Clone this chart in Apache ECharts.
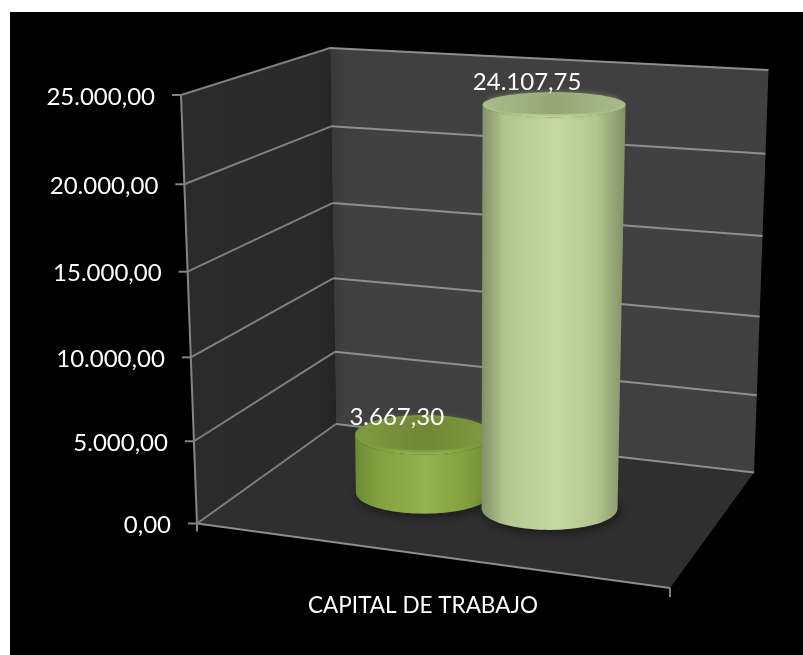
<!DOCTYPE html>
<html>
<head>
<meta charset="utf-8">
<title>Capital de trabajo</title>
<script src="https://cdn.jsdelivr.net/npm/echarts@6/dist/echarts.min.js"></script>
<style>
html, body { margin: 0; padding: 0; background: #fff; overflow: hidden; }
#frame { position: absolute; left: 10px; top: 12px; right: 0; bottom: 0; background: #000; }
#main { position: absolute; left: 0; top: 0; width: 803px; height: 655px; }
</style>
</head>
<body>
<div id="frame"></div>
<div id="main"></div>
<script>
// datos del grafico
const categories = ['CAPITAL DE TRABAJO']
const tickValues = [0, 5000, 10000, 15000, 20000, 25000]
const tickLabels = ['0,00', '5.000,00', '10.000,00', '15.000,00', '20.000,00', '25.000,00']
const serieA = [3667.30]
const serieB = [24107.75]
const labelA = ['3.667,30']
const labelB = ['24.107,75']

const axisMax = 25000
const gridLeft = 197, gridRight = 670, gridTop = 95, gridBottom = 523.5

// esquinas de la caja 3d (front-left, front-right, back-right, back-left)
const floorBox = [[197, 523.5], [670, 588], [754, 472.5], [336, 424]]
const roofBox = [[181, 95], [683, 130], [768.5, 70], [330, 48]]
const persp = 0.95
const barDepth = 0.51

const FONT = 'Lato, Carlito, sans-serif'

function mix(a, b, f) {
    return [a[0] + (b[0] - a[0]) * f, a[1] + (b[1] - a[1]) * f]
}

// u: a lo largo de la categoria, t: altura 0..1, d: profundidad 0..1
function project(u, t, d) {
    const f = t * persp / ((1 - t) + t * persp)
    const bottom = mix(mix(floorBox[0], floorBox[1], u), mix(floorBox[3], floorBox[2], u), d)
    const top = mix(mix(roofBox[0], roofBox[1], u), mix(roofBox[3], roofBox[2], u), d)
    return mix(bottom, top, f)
}

function heightOf(api, value) {
    return (gridBottom - api.coord([0, value])[1]) / (gridBottom - gridTop)
}

function seg(p, q, color, width) {
    return {
        type: 'line',
        shape: { x1: p[0], y1: p[1], x2: q[0], y2: q[1] },
        style: { stroke: color, lineWidth: width }
    }
}

function poly(points, fill) {
    return { type: 'polygon', shape: { points: points }, style: { fill: fill } }
}

function renderBox(params, api) {
    const back = new echarts.graphic.LinearGradient(0, 0, 1, 0, [
        { offset: 0, color: '#383838' }, { offset: 0.03, color: '#404040' }, { offset: 1, color: '#404040' }
    ])
    const left = new echarts.graphic.LinearGradient(0, 0, 1, 0, [
        { offset: 0, color: '#2b2b2b' }, { offset: 0.85, color: '#2a2a2a' }, { offset: 1, color: '#252525' }
    ])
    return {
        type: 'group',
        children: [
            poly([floorBox[0], floorBox[3], roofBox[3], roofBox[0]], left),
            poly([floorBox[3], floorBox[2], roofBox[2], roofBox[3]], back),
            poly(floorBox, '#2f2f2f'),
            seg(floorBox[0], roofBox[0], '#858585', 2),
            seg(floorBox[0], floorBox[1], '#8c8c8c', 2),
            seg(floorBox[0], [floorBox[0][0], floorBox[0][1] + 8], '#858585', 2),
            seg(floorBox[1], [floorBox[1][0], floorBox[1][1] + 9], '#858585', 2)
        ]
    }
}

function renderGrid(params, api) {
    const t = heightOf(api, api.value(0))
    const a = project(0, t, 0)
    const b = project(0, t, 1)
    const c = project(1, t, 1)
    return {
        type: 'group',
        children: [
            seg(a, b, '#7f7f7f', 2),
            seg(b, c, '#8e8e8e', 2),
            seg(a, [a[0] - 9, a[1]], '#858585', 2),
            {
                type: 'text',
                style: {
                    text: tickLabels[params.dataIndex],
                    x: a[0] - 26,
                    y: a[1] + 2,
                    fill: '#ffffff',
                    font: '24px ' + FONT,
                    align: 'right',
                    verticalAlign: 'middle'
                }
            }
        ]
    }
}

function rxAt(y) { return 68 + 3.5 * (508 - y) / 403 }
function ryAt(y) { return 12.5 + 9 * (y - 105) / 403 }

// devuelve el renderItem de un cilindro
function cylinder(offset, colors, text, labelDy) {
    return function (params, api) {
        const x = api.coord([0, api.value(0)])[0] + offset * api.size([1, 0])[0]
        const u = (x - gridLeft) / (gridRight - gridLeft)
        const base = project(u, 0, barDepth)
        const top = project(u, heightOf(api, api.value(0)), barDepth)
        const bx = rxAt(base[1]), by = ryAt(base[1])
        const tx = rxAt(top[1]), ty = ryAt(top[1])

        // lateral: arco frontal de la base y arco frontal de la tapa
        const side = []
        for (let i = 0; i <= 40; i++) {
            const a = Math.PI * i / 40
            side.push([base[0] - bx * Math.cos(a), base[1] + by * Math.sin(a)])
        }
        for (let i = 40; i >= 0; i--) {
            const a = Math.PI * i / 40
            side.push([top[0] - tx * Math.cos(a), top[1] + ty * Math.sin(a)])
        }
        const sideFill = new echarts.graphic.LinearGradient(0, 0, 1, 0, [
            { offset: 0, color: colors.edge },
            { offset: 0.16, color: colors.side },
            { offset: 0.52, color: colors.light },
            { offset: 0.8, color: colors.side },
            { offset: 1, color: colors.edge }
        ])
        const rimFill = new echarts.graphic.LinearGradient(0, 0, 0, 1, [
            { offset: 0, color: colors.topLight },
            { offset: 0.82, color: colors.side },
            { offset: 1, color: colors.rim }
        ])
        const topFill = new echarts.graphic.LinearGradient(0, 0, 1, 0, [
            { offset: 0, color: colors.topLight },
            { offset: 0.5, color: colors.topColor },
            { offset: 1, color: colors.topLight }
        ])
        return {
            type: 'group',
            children: [
                {
                    type: 'ellipse',
                    shape: { cx: base[0] + 2, cy: base[1] + 2, rx: bx, ry: by },
                    style: { fill: '#222222', shadowBlur: 12, shadowColor: 'rgba(0,0,0,0.55)' }
                },
                poly(side, sideFill),
                { type: 'ellipse', shape: { cx: top[0], cy: top[1], rx: tx, ry: ty }, style: { fill: rimFill } },
                {
                    type: 'ellipse',
                    shape: { cx: top[0], cy: top[1] - 1, rx: tx - 5, ry: ty * 0.82 },
                    style: { fill: topFill, shadowBlur: 6, shadowColor: colors.topColor }
                },
                {
                    type: 'text',
                    style: {
                        text: text,
                        x: top[0] - 27,
                        y: top[1] + labelDy,
                        fill: '#ffffff',
                        font: '24px ' + FONT,
                        align: 'center',
                        verticalAlign: 'middle'
                    }
                }
            ]
        }
    }
}

const chart = echarts.init(document.getElementById('main'))

chart.setOption({
    animation: false,
    backgroundColor: 'transparent',
    grid: { left: gridLeft, width: gridRight - gridLeft, top: gridTop, height: gridBottom - gridTop },
    xAxis: {
        type: 'category',
        data: categories,
        position: 'bottom',
        offset: 71,
        axisLine: { show: false },
        axisTick: { show: false },
        axisLabel: { color: '#ffffff', fontFamily: FONT, fontSize: 22.5, margin: 0, lineHeight: 22, verticalAlign: 'top', padding: [0, 21, 0, 0] }
    },
    yAxis: { type: 'value', min: 0, max: axisMax, interval: 5000, show: false },
    series: [
        { type: 'custom', name: 'caja', z: 1, data: [0], clip: false, renderItem: renderBox, encode: { y: 0 } },
        { type: 'custom', name: 'grid', z: 2, data: tickValues, clip: false, renderItem: renderGrid, encode: { y: 0 } },
        {
            type: 'custom', name: 'A', z: 3, data: serieA, clip: false, encode: { y: 0 },
            renderItem: cylinder(-0.149, { edge: '#6d8a35', side: '#82a03f', light: '#93b250', topColor: '#6f8736', topLight: '#7f9a3e', rim: '#9dbb5a' }, labelA[0], -17)
        },
        {
            type: 'custom', name: 'B', z: 4, data: serieB, clip: false, encode: { y: 0 },
            renderItem: cylinder(0.133, { edge: '#828f68', side: '#b2c68e', light: '#c6d9a2', topColor: '#96a677', topLight: '#a9ba89', rim: '#d5e5a8' }, labelB[0], -22.5)
        }
    ]
})
</script>
</body>
</html>
